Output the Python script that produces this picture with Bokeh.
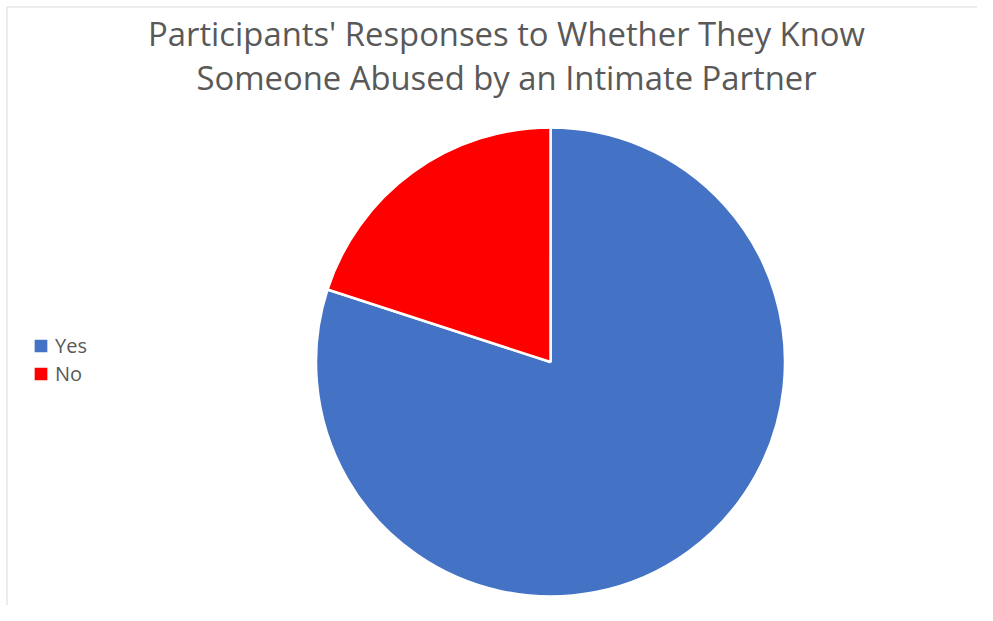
import math
from bokeh.plotting import figure
from bokeh.models import ColumnDataSource, Range1d, Legend, LegendItem
from bokeh.core.properties import value
from bokeh.embed import file_html
from bokeh.resources import INLINE

# ---- data ----
labels = ["Yes", "No"]
values = [80, 20]
colors = ["#4472C4", "#FF0000"]
title_lines = ["Participants' Responses to Whether They Know",
               "Someone Abused by an Intimate Partner"]

W, H = 977, 605
p = figure(width=W, height=H, output_backend="svg", toolbar_location=None,
           x_range=Range1d(0, W), y_range=Range1d(0, H),
           min_border=0, min_border_left=0, min_border_right=0,
           min_border_top=0, min_border_bottom=0)
p.axis.visible = False
p.grid.visible = False
p.outline_line_color = None
p.background_fill_color = "white"
p.border_fill_color = "white"

# pie angles (clockwise from 12 o'clock)
total = sum(values)
starts, ends = [], []
cum = 0.0
for v in values:
    a0 = math.pi / 2 - 2 * math.pi * cum / total
    cum += v
    a1 = math.pi / 2 - 2 * math.pi * cum / total
    starts.append(a1)
    ends.append(a0)

src = ColumnDataSource(dict(label=labels, value=values, color=colors,
                            start=starts, end=ends))
cx, cy, r = 550, 243.5, 234.5
wedges = p.wedge(x=cx, y=cy, radius=r, start_angle="start", end_angle="end",
                 fill_color="color", line_color="white", line_width=2.5,
                 source=src)

# title
tsrc = ColumnDataSource(dict(x=[506, 506], y=[572.5, 528.5], t=title_lines))
p.text(x="x", y="y", text="t", source=tsrc, text_align="center",
       text_baseline="alphabetic", text_color="#595959",
       text_font=value("Open Sans"), text_font_size="32.8px")

# chart-area border (left / top)
p.line(x=[6.5, 6.5, W], y=[0, H - 6.5, H - 6.5], line_color="#d9d9d9", line_width=1)

items = [LegendItem(label=lab, renderers=[wedges], index=i) for i, lab in enumerate(labels)]
legend = Legend(items=items, location=(31, 218), orientation="vertical",
                glyph_width=19, glyph_height=19, label_standoff=5,
                spacing=1, padding=0, margin=0,
                border_line_color=None, background_fill_alpha=0,
                label_text_font="Open Sans", label_text_font_size="20px",
                label_text_color="#595959")
p.add_layout(legend)

open("out.html", "w").write(file_html(p, INLINE))
